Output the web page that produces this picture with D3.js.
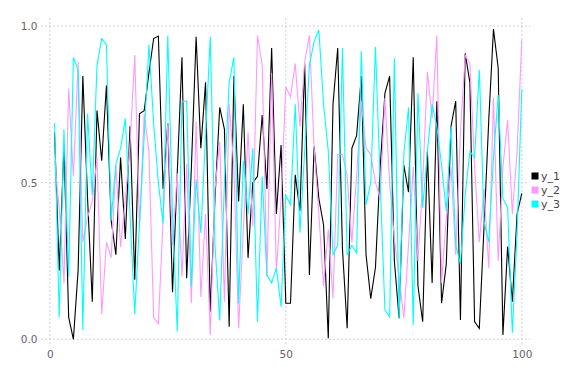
<!DOCTYPE html>
<html><head><meta charset="utf-8">
<script src="https://cdn.jsdelivr.net/npm/d3@7"></script>
<style>body{margin:0;background:#fff}svg{display:block}</style>
</head><body>
<svg id="c" width="576" height="384"></svg>
<script>
const seriesNames = ["y_1", "y_2", "y_3"];
const seriesColors = ["#000000", "#ff99ff", "#00ffff"];
const xTicks = [0, 50, 100];
const yTicks = [0, 0.5, 1.0];
const y1 = [0.66,0.22,0.62,0.07,0.00,0.22,0.84,0.45,0.12,0.73,
0.57,0.81,0.38,0.27,0.58,0.32,0.68,0.19,0.72,0.73,
0.85,0.96,0.968,0.48,0.69,0.15,0.53,0.90,0.195,0.55,
0.966,0.61,0.82,0.088,0.45,0.74,0.67,0.04,0.84,0.44,
0.75,0.26,0.50,0.52,0.716,0.48,0.93,0.40,0.62,0.115,
0.115,0.525,0.41,0.88,0.205,0.615,0.45,0.365,0.003,0.75,
0.93,0.29,0.035,0.61,0.65,0.84,0.27,0.13,0.23,0.55,
0.785,0.84,0.25,0.067,0.556,0.47,0.90,0.17,0.056,0.60,
0.18,0.76,0.115,0.24,0.68,0.76,0.062,0.913,0.82,0.056,
0.035,0.36,0.70,0.99,0.865,0.014,0.296,0.12,0.40,0.466];
const y2 = [0.57,0.42,0.18,0.80,0.52,0.886,0.31,0.39,0.44,0.58,
0.08,0.31,0.26,0.556,0.295,0.45,0.62,0.907,0.35,0.72,
0.60,0.07,0.05,0.38,0.69,0.30,0.53,0.20,0.56,0.115,
0.695,0.135,0.40,0.014,0.48,0.63,0.12,0.75,0.55,0.035,
0.35,0.66,0.36,0.97,0.875,0.20,0.85,0.216,0.45,0.806,
0.774,0.88,0.68,0.886,0.97,0.61,0.40,0.17,0.35,0.13,
0.59,0.59,0.52,0.31,0.52,0.76,0.61,0.59,0.50,0.45,
0.77,0.50,0.32,0.20,0.067,0.30,0.55,0.25,0.50,0.854,
0.705,0.97,0.18,0.386,0.55,0.27,0.66,0.907,0.88,0.55,
0.31,0.48,0.227,0.77,0.25,0.55,0.70,0.40,0.60,0.955];
const y3 = [0.69,0.07,0.67,0.20,0.90,0.86,0.03,0.72,0.46,0.875,
0.96,0.94,0.38,0.56,0.61,0.705,0.40,0.08,0.37,0.65,
0.94,0.69,0.50,0.37,0.97,0.40,0.024,0.76,0.76,0.17,
0.51,0.34,0.65,0.966,0.30,0.06,0.50,0.82,0.90,0.115,
0.57,0.40,0.61,0.056,0.52,0.205,0.18,0.227,0.104,0.46,
0.43,0.75,0.34,0.60,0.875,0.95,0.987,0.75,0.60,0.27,
0.30,0.93,0.27,0.30,0.275,0.92,0.43,0.50,0.934,0.50,
0.094,0.072,0.897,0.067,0.59,0.74,0.046,0.785,0.42,0.60,
0.75,0.68,0.556,0.41,0.68,0.30,0.24,0.46,0.60,0.58,
0.86,0.375,0.31,0.58,0.78,0.45,0.42,0.02,0.34,0.80];
const seriesValues = [y1, y2, y3];

const svg = d3.select("#c");
const x = d3.scaleLinear().domain([0, 100]).range([49.8, 521.8]);
const y = d3.scaleLinear().domain([0, 1]).range([339.3, 26]);
const gridColor = "#d0d0e0";
const labelColor = "#6c606b";
const font = "DejaVu Sans, sans-serif";

// grid
const g = svg.append("g");
g.selectAll("line.h").data(yTicks).enter().append("line")
  .attr("x1", 41).attr("x2", 530)
  .attr("y1", d => y(d)).attr("y2", d => y(d))
  .attr("stroke", gridColor).attr("stroke-width", 1).attr("stroke-dasharray", "2,2");
g.selectAll("line.v").data(xTicks).enter().append("line")
  .attr("y1", 18).attr("y2", 345)
  .attr("x1", d => x(d)).attr("x2", d => x(d))
  .attr("stroke", gridColor).attr("stroke-width", 1).attr("stroke-dasharray", "2,2");

// axes labels via d3 axes
const yAxis = d3.axisLeft(y).tickValues(yTicks).tickFormat(d3.format(".1f")).tickSize(0).tickPadding(0);
const ya = svg.append("g").attr("transform", "translate(37.5,0)").call(yAxis);
ya.select(".domain").remove();
ya.selectAll("text").attr("fill", labelColor).style("font-family", font).style("font-size", "10.5px");

const xAxis = d3.axisBottom(x).tickValues(xTicks).tickFormat(d3.format("d")).tickSize(0).tickPadding(0);
const xa = svg.append("g").attr("transform", "translate(0,351)").call(xAxis);
xa.select(".domain").remove();
xa.selectAll("text").attr("fill", labelColor).style("font-family", font).style("font-size", "10.5px");

// lines
const line = d3.line().x((d, i) => x(i + 1)).y(d => y(d));
seriesValues.forEach((vals, k) => {
  svg.append("path").datum(vals)
    .attr("fill", "none").attr("stroke", seriesColors[k])
    .attr("stroke-width", 1.1).attr("stroke-linejoin", "miter")
    .attr("d", line);
});

// legend
const lg = svg.append("g");
seriesNames.forEach((name, k) => {
  const cy = 176 + k * 14;
  lg.append("rect").attr("x", 531.5).attr("y", cy - 3.5).attr("width", 7).attr("height", 7)
    .attr("fill", seriesColors[k]);
  lg.append("text").attr("x", 541).attr("y", cy).attr("dy", "0.35em")
    .attr("fill", "#4c404b").style("font-family", font).style("font-size", "11px").text(name);
});
</script>
</body></html>
